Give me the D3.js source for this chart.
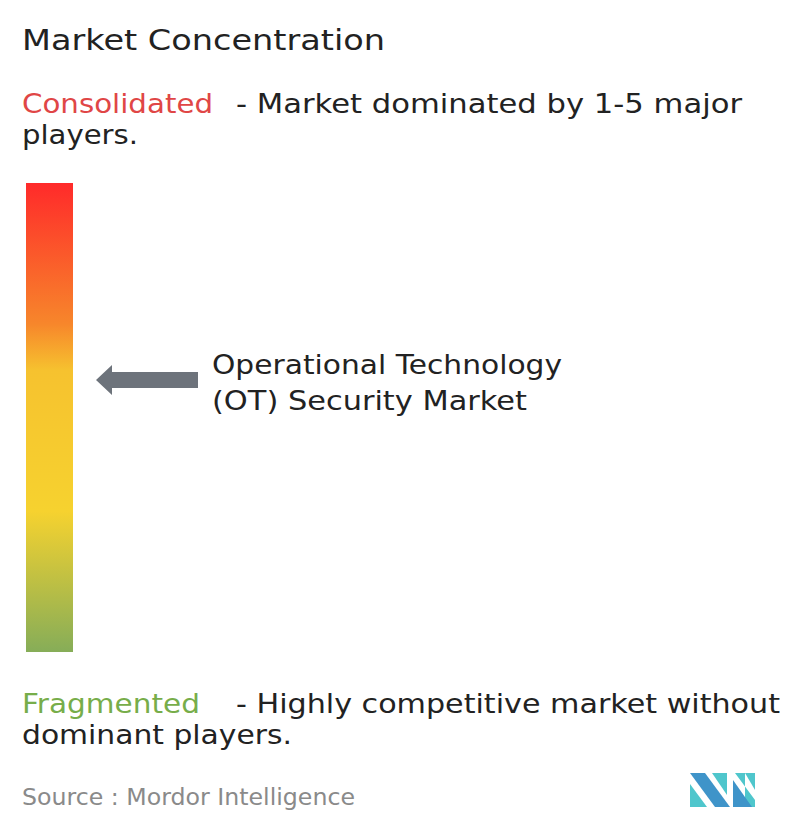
<!DOCTYPE html><html><head><meta charset="utf-8">
<script src="https://cdn.jsdelivr.net/npm/d3@7"></script>
<style>body{margin:0;background:#fff}</style></head><body>
<script>
const title = "Market Concentration";
const topLabel = ["Consolidated", "- Market dominated by 1-5 major", "players."];
const bottomLabel = ["Fragmented", "- Highly competitive market without", "dominant players."];
const marketName = ["Operational Technology", "(OT) Security Market"];
const position = [0.42]; // 0 = consolidated (top), 1 = fragmented (bottom)
const gradStops = [[0,"#ff2a2a"],[0.3,"#f7862b"],[0.4,"#f6c22f"],[0.7,"#f6d22f"],[1,"#86ad58"]];

const svg = d3.select("body").append("svg").attr("width",796).attr("height",834)
  .style("font-family","'DejaVu Sans', sans-serif");
const defs = svg.append("defs");
const g = defs.append("linearGradient").attr("id","grad").attr("x1",0).attr("x2",0).attr("y1",0).attr("y2",1);
gradStops.forEach(s=>g.append("stop").attr("offset",s[0]).attr("stop-color",s[1]));

function txt(x,yy,size,fill,s,len){const t=svg.append("text").attr("x",x).attr("y",yy).attr("font-size",size).attr("fill",fill).text(s);
  if(len) t.attr("textLength",len).attr("lengthAdjust","spacingAndGlyphs"); return t;}
txt(22,50,28,"#222",title,363);
txt(22,113,27,"#e04646",topLabel[0],191);
txt(236,113,27,"#222",topLabel[1],506);
txt(22,144,27,"#222",topLabel[2],116);

const y = d3.scaleLinear().domain([0,1]).range([183,652]);
svg.append("rect").attr("x",26).attr("y",y(0)).attr("width",47).attr("height",y(1)-y(0)).attr("fill","url(#grad)");

const ay = y(position[0]);
svg.append("path").attr("fill","#6d737b")
  .attr("d",`M96,${ay} L112,${ay-15} L112,${ay-8} L198,${ay-8} L198,${ay+8} L112,${ay+8} L112,${ay+15} Z`);
txt(212,374,27,"#222",marketName[0],350);
txt(212,410,27,"#222",marketName[1],315);

txt(22,713,27,"#77ad4a",bottomLabel[0],178);
txt(236,713,27,"#222",bottomLabel[1],544);
txt(22,744,27,"#222",bottomLabel[2],270);

txt(22,805,23,"#8a8a8a","Source :  Mordor Intelligence",333);

const lg = svg.append("g");
lg.append("polygon").attr("points","690,773 705,773 730,807 715,807").attr("fill","#3f94c9");
lg.append("polygon").attr("points","690,784 707,807 690,807").attr("fill","#4fc6cc");
lg.append("polygon").attr("points","712,773 727,773 727,795").attr("fill","#4fc6cc");
lg.append("polygon").attr("points","735,773 745,773 745,807 755,807 755,800").attr("fill","#4fc6cc");
lg.append("polygon").attr("points","733,780 752,807 733,807").attr("fill","#3f94c9");
lg.append("polygon").attr("points","745,773 755,773 755,790").attr("fill","#4fc6cc");
</script></body></html>
